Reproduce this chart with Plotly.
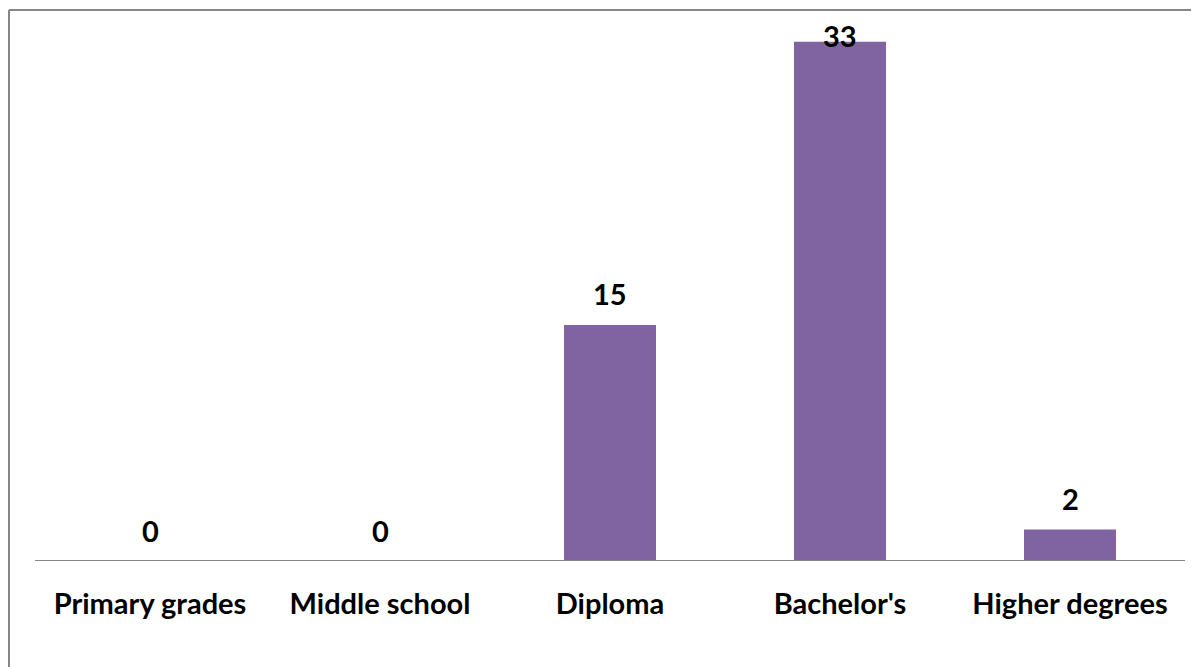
import plotly.graph_objects as go

categories = ["Primary grades", "Middle school", "Diploma", "Bachelor's", "Higher degrees"]
values = [0, 0, 15, 33, 2]

BAR_COLOR = "#8064A2"
BORDER_COLOR = "#868686"
FONT = "Lato"
FSIZE = 29

# page body adds an 8px margin, so the figure is sized to fit the window
W, H = 1191, 659
ML, MR, MT, MB = 27, 14, 18, 106
YMAX = 34
plot_w = W - ML - MR
plot_h = H - MT - MB
ppu = plot_h / YMAX

fig = go.Figure()
fig.add_trace(go.Bar(
    x=categories, y=values, marker=dict(color=BAR_COLOR, line=dict(width=0)),
    width=0.4, hoverinfo="skip",
))

annotations = []
for c, v in zip(categories, values):
    top_px = MT + plot_h - v * ppu
    center_px = max(top_px - 31, 27)
    annotations.append(dict(
        x=c, y=v, xref="x", yref="y", text=f"<b>{v}</b>", showarrow=False,
        yanchor="middle", yshift=top_px - center_px,
        font=dict(family=FONT, size=FSIZE, color="black"),
    ))

bx = (1 - ML) / plot_w
by = (plot_h + MT - 2) / plot_h

fig.update_layout(
    width=W, height=H,
    margin=dict(l=ML, r=MR, t=MT, b=MB, pad=0, autoexpand=False),
    paper_bgcolor="white", plot_bgcolor="white",
    showlegend=False,
    annotations=annotations,
    xaxis=dict(
        showline=False, range=[-0.5, len(categories) - 0.5],
        ticks="", showgrid=False, zeroline=False, automargin=False,
        tickfont=dict(family=FONT, size=FSIZE, color="black"),
        ticklabelstandoff=23,
        tickprefix="<b>", ticksuffix="</b>",
    ),
    yaxis=dict(range=[0, YMAX], visible=False, showgrid=False, zeroline=False,
               automargin=False),
    shapes=[
        # category axis baseline
        dict(type="line", xref="paper", yref="y",
             x0=0, x1=1, y0=0, y1=0,
             line=dict(color=BORDER_COLOR, width=2)),
        # chart-area border (top and left edges visible)
        dict(type="line", xref="paper", yref="paper",
             x0=bx, x1=1.2, y0=by, y1=by,
             line=dict(color=BORDER_COLOR, width=2)),
        dict(type="line", xref="paper", yref="paper",
             x0=bx, x1=bx, y0=-0.5, y1=by,
             line=dict(color=BORDER_COLOR, width=2)),
    ],
)

fig.write_html("out.html")
